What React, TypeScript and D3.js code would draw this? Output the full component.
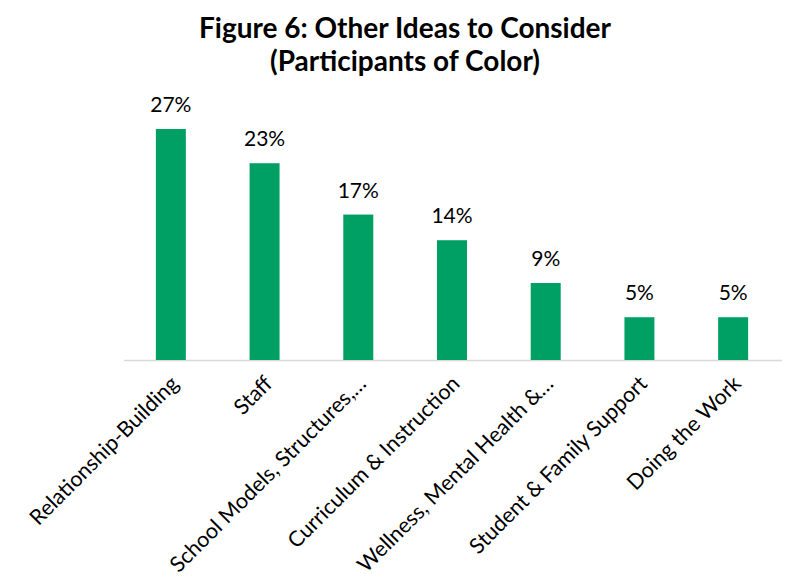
import React from "react";
import * as d3 from "d3";

const categories = [
  "Relationship-Building",
  "Staff",
  "School Models, Structures,…",
  "Curriculum & Instruction",
  "Wellness, Mental Health &…",
  "Student & Family Support",
  "Doing the Work",
];
const values = [0.27, 0.23, 0.17, 0.14, 0.09, 0.05, 0.05];
const titleLines = ["Figure 6: Other Ideas to Consider", "(Participants of Color)"];

const W = 785;
const H = 588;
const FONT = "Lato, 'Open Sans', sans-serif";

export default function App() {
  const x = d3.scaleBand<string>().domain(categories).range([124, 780]).paddingInner(0.68).paddingOuter(0.34);
  const y = d3.scaleLinear().domain([0, 0.27]).range([360, 129]);
  const fmt = d3.format(".0%");
  return (
    <svg width={W} height={H} style={{ position: "absolute", left: 0, top: 0, background: "#fff" }}>
      <g fontFamily={FONT} fontWeight={700} fontSize={28} textAnchor="middle" fill="#000">
        {titleLines.map((t, i) => (
          <text key={i} x={405} y={38 + i * 33}>{t}</text>
        ))}
      </g>
      <line x1={124} x2={782} y1={y(0) + 0.5} y2={y(0) + 0.5} stroke="#d9d9d9" strokeWidth={1.5} />
      {categories.map((c, i) => (
        <g key={c}>
          <rect x={x(c)} y={y(values[i])} width={x.bandwidth()} height={y(0) - y(values[i])} fill="#00a065" />
          <text x={x(c)! + x.bandwidth() / 2} y={y(values[i]) - 17} textAnchor="middle" fontFamily={FONT} fontSize={21} fill="#000">
            {fmt(values[i])}
          </text>
          <text
            transform={`translate(${x(c)! + x.bandwidth() / 2 + 9},${385}) rotate(-45)`}
            textAnchor="end"
            fontFamily={FONT}
            fontSize={21.5}
            fill="#000"
          >
            {c}
          </text>
        </g>
      ))}
    </svg>
  );
}
